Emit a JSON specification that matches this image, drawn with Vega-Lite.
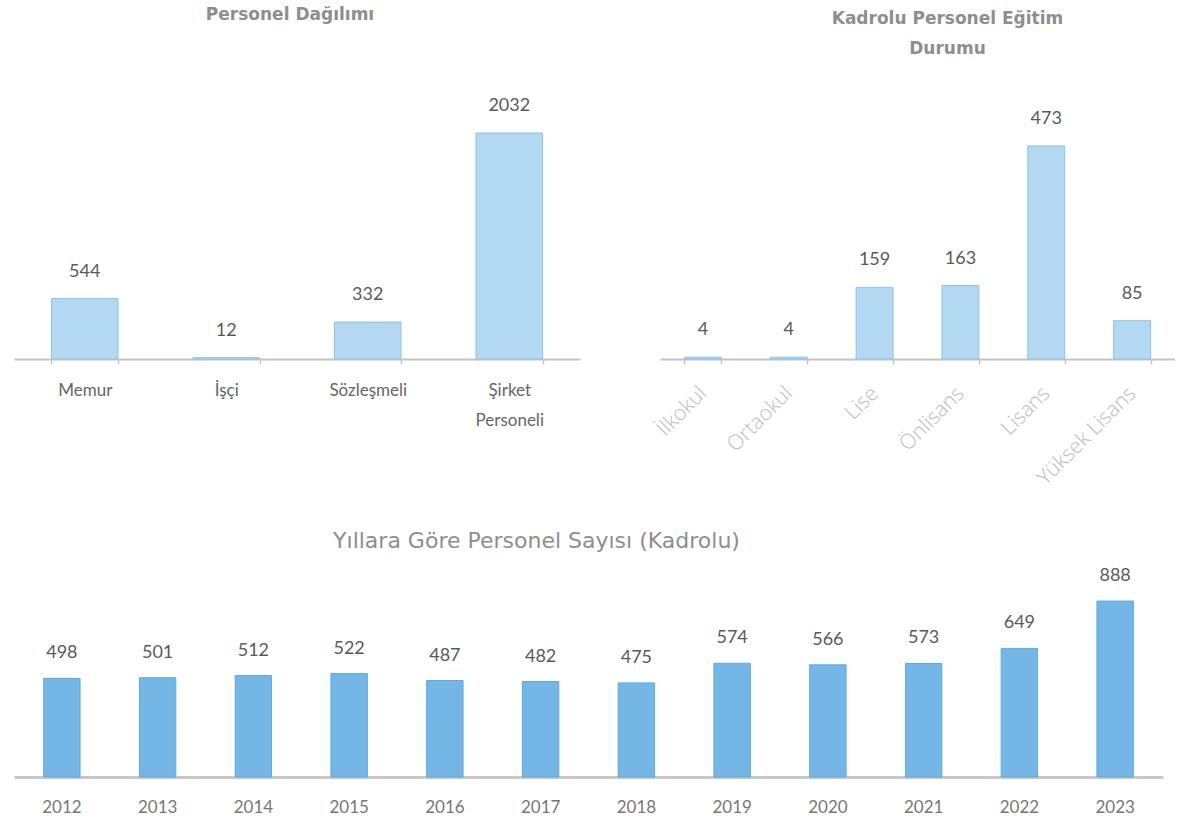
{
  "$schema": "https://vega.github.io/schema/vega-lite/v6.json",
  "padding": {"left": 14, "top": 6, "right": 0, "bottom": 0},
  "background": "white",
  "config": {"view": {"stroke": null}},
  "bounds": "flush",
  "spacing": 456,
  "vconcat": [
    {
      "bounds": "flush",
      "spacing": 80,
      "hconcat": [
        {
          "width": 566,
          "height": 250,
          "title": {"text": "Personel Dağılımı", "font": "DejaVu Sans", "fontSize": 17, "fontWeight": "bold", "color": "#8e8e8e", "offset": 73, "anchor": "middle", "dx": -7},
          "data": {"values": [
            {"kategori": "Memur", "sayi": 544},
            {"kategori": "İşçi", "sayi": 12},
            {"kategori": "Sözleşmeli", "sayi": 332},
            {"kategori": "Şirket Personeli", "sayi": 2032}
          ]},
          "encoding": {
            "x": {"field": "kategori", "type": "nominal", "sort": null,
              "scale": {"paddingInner": 0.53, "paddingOuter": 0.265},
              "axis": {"title": null, "labelAngle": 0, "labelFont": "Lato", "labelFontSize": 17, "labelColor": "#666666", "labelPadding": 18, "labelLineHeight": 30, "labelBaseline": "top",
                "domainColor": "#c4c4c4", "domainWidth": 2, "tickColor": "#c4c4c4", "tickSize": 5, "tickWidth": 1.5, "tickBand": "extent",
                "labelExpr": "datum.label == 'Şirket Personeli' ? ['Şirket', 'Personeli'] : datum.label"}},
            "y": {"field": "sayi", "type": "quantitative", "scale": {"domain": [0, 2248]}, "axis": null}
          },
          "layer": [
            {"mark": {"type": "bar", "fill": "#b3d9f2", "stroke": "#8cc3e8", "strokeWidth": 1}},
            {"mark": {"type": "text", "baseline": "middle", "dy": -27, "font": "Lato", "fontSize": 18, "color": "#5a5a5a"},
             "encoding": {"text": {"field": "sayi", "type": "quantitative"}}}
          ]
        },
        {
          "width": 515,
          "height": 250,
          "title": {"text": ["Kadrolu Personel Eğitim", "Durumu"], "font": "DejaVu Sans", "fontSize": 17, "fontWeight": "bold", "color": "#8e8e8e", "offset": 51, "lineHeight": 30, "anchor": "middle", "dx": 30},
          "data": {"values": [
            {"egitim": "İlkokul", "sayi": 4},
            {"egitim": "Ortaokul", "sayi": 4},
            {"egitim": "Lise", "sayi": 159},
            {"egitim": "Önlisans", "sayi": 163},
            {"egitim": "Lisans", "sayi": 473},
            {"egitim": "Yüksek Lisans", "sayi": 85}
          ]},
          "encoding": {
            "x": {"field": "egitim", "type": "nominal", "sort": null,
              "scale": {"paddingInner": 0.57, "paddingOuter": 0.285},
              "axis": {"title": null, "labelAngle": -45, "labelAlign": "right", "labelBaseline": "middle", "labelFont": "Open Sans", "labelFontWeight": 300, "labelFontSize": 21, "labelColor": "#bdbdbd", "labelPadding": 26,
                "domainColor": "#c4c4c4", "domainWidth": 2, "tickColor": "#c4c4c4", "tickSize": 5, "tickWidth": 1.5, "tickBand": "extent"}},
            "y": {"field": "sayi", "type": "quantitative", "scale": {"domain": [0, 555]}, "axis": null}
          },
          "layer": [
            {"mark": {"type": "bar", "fill": "#b3d9f2", "stroke": "#8cc3e8", "strokeWidth": 1}},
            {"mark": {"type": "text", "baseline": "middle", "dy": -27, "font": "Lato", "fontSize": 18, "color": "#5a5a5a"},
             "encoding": {"text": {"field": "sayi", "type": "quantitative"}}}
          ]
        }
      ]
    },
    {
      "width": 1149,
      "height": 212,
      "title": {"text": "Yıllara Göre Personel Sayısı (Kadrolu)", "font": "DejaVu Sans", "fontSize": 22, "fontWeight": "normal", "color": "#8e8e8e", "offset": 12, "anchor": "middle", "dx": -52},
      "data": {"values": [
        {"yil": "2012", "sayi": 498},
        {"yil": "2013", "sayi": 501},
        {"yil": "2014", "sayi": 512},
        {"yil": "2015", "sayi": 522},
        {"yil": "2016", "sayi": 487},
        {"yil": "2017", "sayi": 482},
        {"yil": "2018", "sayi": 475},
        {"yil": "2019", "sayi": 574},
        {"yil": "2020", "sayi": 566},
        {"yil": "2021", "sayi": 573},
        {"yil": "2022", "sayi": 649},
        {"yil": "2023", "sayi": 888}
      ]},
      "encoding": {
        "x": {"field": "yil", "type": "nominal", "sort": null,
          "scale": {"paddingInner": 0.62, "paddingOuter": 0.31},
          "axis": {"title": null, "labelAngle": 0, "labelFont": "Lato", "labelFontSize": 17, "labelColor": "#777777", "labelPadding": 22, "labelBaseline": "top",
            "domainColor": "#c8c8c8", "domainWidth": 3, "ticks": false}},
        "y": {"field": "sayi", "type": "quantitative", "scale": {"domain": [0, 1070]}, "axis": null}
      },
      "layer": [
        {"mark": {"type": "bar", "fill": "#74b7e6", "stroke": "#5ea9de", "strokeWidth": 1}},
        {"mark": {"type": "text", "baseline": "middle", "dy": -25, "font": "Lato", "fontSize": 18, "color": "#5a5a5a"},
         "encoding": {"text": {"field": "sayi", "type": "quantitative"}}}
      ]
    }
  ]
}
